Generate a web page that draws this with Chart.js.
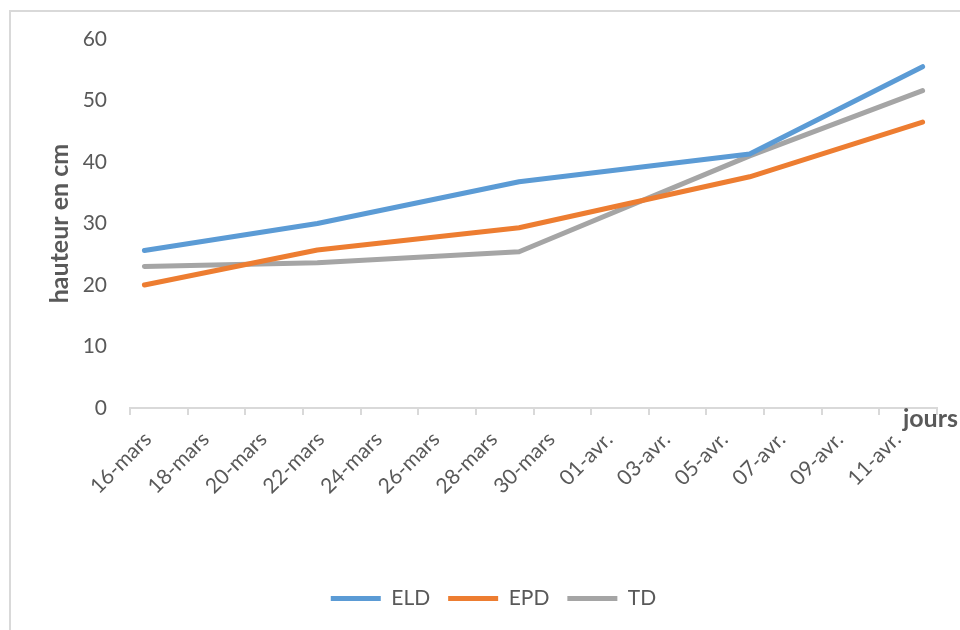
<!DOCTYPE html>
<html lang="fr">
<head>
<meta charset="utf-8">
<title>Croissance en hauteur</title>
<script src="https://cdn.jsdelivr.net/npm/chart.js@4.4.1/dist/chart.umd.min.js"></script>
<style>
  html, body { margin: 0; padding: 0; background: #fff; }
  canvas { display: block; }
</style>
</head>
<body>
<canvas id="chart" width="960" height="630"></canvas>
<script>
// Mesures de hauteur (cm) par traitement
const pointDates = ['16-mars', '22-mars', '29-mars', '06-avr.', '12-avr.'];
const pointDays = [0, 6, 13, 21, 27];           // jours depuis le 16-mars
const eld = [25.6, 30.0, 36.8, 41.3, 55.5];
const epd = [20.0, 25.7, 29.3, 37.6, 46.5];
const td = [23.0, 23.6, 25.4, 41.0, 51.6];

// Axe des dates : une graduation tous les deux jours
const tickLabels = ['16-mars', '18-mars', '20-mars', '22-mars', '24-mars', '26-mars', '28-mars',
  '30-mars', '01-avr.', '03-avr.', '05-avr.', '07-avr.', '09-avr.', '11-avr.'];
const dayCount = 28;

const TEXT = '#595959';
const AXIS = '#d9d9d9';
const FONT = 'Lato, "Open Sans", sans-serif';
const PAD_LEFT = 50;

const toPoints = (values) => values.map((v, i) => ({ x: pointDays[i], y: v }));

const series = [
  { label: 'ELD', data: eld, color: '#5b9bd5' },
  { label: 'EPD', data: epd, color: '#ed7d31' },
  { label: 'TD', data: td, color: '#a5a5a5' },
];

// cadre du graphique + titre "jours" au bout de l'axe
const frame = {
  id: 'frame',
  beforeDraw(chart) {
    const { ctx } = chart;
    ctx.save();
    ctx.fillStyle = '#fff';
    ctx.fillRect(0, 0, chart.width, chart.height);
    ctx.strokeStyle = AXIS;
    ctx.lineWidth = 2;
    ctx.beginPath();
    ctx.moveTo(10, chart.height);
    ctx.lineTo(10, 11);
    ctx.lineTo(chart.width, 11);
    ctx.stroke();
    ctx.restore();
  },
  afterDraw(chart) {
    const { ctx, chartArea } = chart;
    ctx.save();
    ctx.font = 'bold 25px ' + FONT;
    ctx.fillStyle = TEXT;
    ctx.textAlign = 'right';
    ctx.textBaseline = 'alphabetic';
    ctx.fillText('jours', chartArea.right + 21, chartArea.bottom + 19);
    ctx.restore();
  }
};

new Chart(document.getElementById('chart'), {
  type: 'line',
  data: {
    datasets: series.map(s => ({
      label: s.label,
      data: toPoints(s.data),
      borderColor: s.color,
      backgroundColor: s.color,
      borderWidth: 5,
      borderCapStyle: 'round',
      borderJoinStyle: 'round',
      pointRadius: 0,
      tension: 0,
    }))
  },
  options: {
    responsive: false,
    animation: false,
    layout: { padding: { left: PAD_LEFT, right: 23, top: 39, bottom: 11 } },
    scales: {
      x: {
        type: 'linear',
        min: -0.5,
        max: dayCount - 0.5,
        afterBuildTicks(scale) {
          const ticks = tickLabels.map((_, i) => ({ value: -0.5 + 2 * i }));
          ticks.push({ value: dayCount - 0.5 });
          scale.ticks = ticks;
        },
        afterFit(scale) {
          scale.height = 162;
          scale.paddingLeft = 0;
          scale.paddingRight = 0;
        },
        border: { display: true, color: AXIS, width: 2 },
        grid: { display: true, drawOnChartArea: false, drawTicks: true, tickLength: 7, color: AXIS, lineWidth: 2 },
        ticks: {
          autoSkip: false,
          maxRotation: 45,
          minRotation: 45,
          labelOffset: 18,
          padding: 12,
          color: TEXT,
          font: { family: FONT, size: 21 },
          callback: (value, index) => tickLabels[index] || '',
        }
      },
      y: {
        min: 0,
        max: 60,
        afterFit(scale) { scale.width = 130 - PAD_LEFT; },
        border: { display: false },
        grid: { display: false, drawTicks: false },
        ticks: {
          stepSize: 10,
          padding: 23,
          color: TEXT,
          font: { family: FONT, size: 21 },
        },
        title: {
          display: true,
          text: 'hauteur en cm',
          color: TEXT,
          font: { family: FONT, size: 25, weight: 'bold' },
          padding: { top: 45 - PAD_LEFT, bottom: 0 },
        }
      }
    },
    plugins: {
      legend: {
        position: 'bottom',
        labels: {
          usePointStyle: true,
          pointStyle: 'line',
          pointStyleWidth: 50,
          padding: 18,
          color: TEXT,
          font: { family: FONT, size: 21 },
        }
      },
      tooltip: {
        callbacks: {
          title: (items) => pointDates[items[0].dataIndex],
          label: (ctx) => `${ctx.dataset.label}: ${ctx.parsed.y} cm`,
        }
      }
    }
  },
  plugins: [frame]
});
</script>
</body>
</html>
